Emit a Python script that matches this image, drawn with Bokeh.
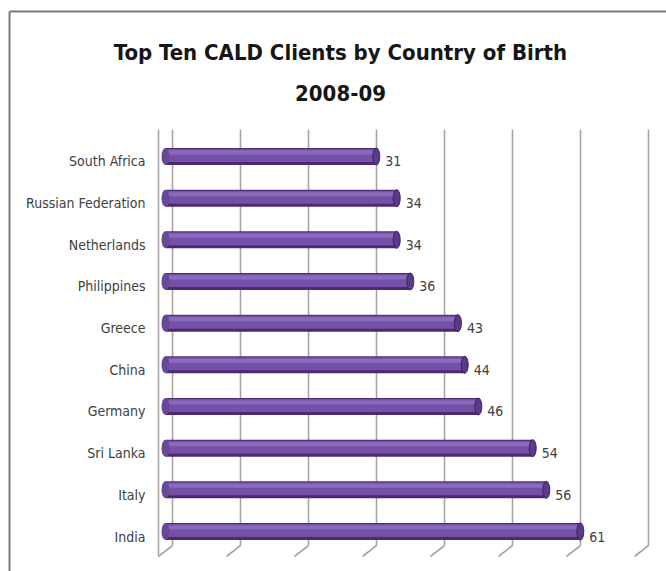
from bokeh.plotting import figure
from bokeh.models import Range1d
from bokeh.core.properties import value
from bokeh.embed import file_html
from bokeh.resources import INLINE

# ---- data ----
title_line1 = "Top Ten CALD Clients by Country of Birth"
title_line2 = "2008-09"
countries = ["India", "Italy", "Sri Lanka", "Germany", "China", "Greece",
             "Philippines", "Netherlands", "Russian Federation", "South Africa"]
clients = [61, 56, 54, 46, 44, 43, 36, 34, 34, 31]
grid_values = [0, 10, 20, 30, 40, 50, 60, 70]

# ---- geometry (pixels) ----
W, H = 666, 571
PX_X0, PX_PER_X = 165, 6.8
PX_CAT0, PX_PER_CAT = 536, 41.67
PLOT_TOP = 129

def xd(px):
    return (px - PX_X0) / PX_PER_X

def yd(py):
    return (PX_CAT0 - py) / PX_PER_CAT

def dx(px):
    return px / PX_PER_X

def dy(px):
    return px / PX_PER_CAT

FONT = "'DejaVu Sans Condensed', 'Liberation Sans', sans-serif"
TEXT_COL = "#404040"

p = figure(width=W, height=H, output_backend="svg", toolbar_location=None,
           x_range=Range1d(xd(0), xd(W)), y_range=Range1d(yd(H), yd(0)),
           x_axis_location=None, y_axis_location=None,
           min_border=0, min_border_left=0, min_border_right=0,
           min_border_top=0, min_border_bottom=0)
p.title.visible = False
p.outline_line_color = None
p.xgrid.visible = False
p.ygrid.visible = False
p.background_fill_color = "white"
p.border_fill_color = "white"

n = len(grid_values)
idx = list(range(len(countries)))

# ---- chart border (left + top edges of the chart area) ----
border_col = "#7d7878"
p.segment(x0=[xd(9), xd(9)], y0=[yd(11), yd(11)], x1=[xd(9), xd(W + 10)],
          y1=[yd(H + 10), yd(11)], line_color=border_col, line_width=2)

# ---- 3D-like gridlines (back wall + slanted floor ticks) ----
back, front = dx(7), dx(7)
grid_col = "#aaa3a3"
gx_back = [v + back for v in grid_values]
gx_front = [v - front for v in grid_values]
p.segment(x0=gx_back, y0=[yd(PLOT_TOP)] * n, x1=gx_back, y1=[yd(545)] * n,
          line_color=grid_col, line_width=1.6)
p.segment(x0=gx_back, y0=[yd(545)] * n, x1=gx_front, y1=[yd(556)] * n,
          line_color=grid_col, line_width=1.6)
p.segment(x0=[gx_front[0]], y0=[yd(PLOT_TOP)], x1=[gx_front[0]], y1=[yd(556)],
          line_color=grid_col, line_width=1.6)

# ---- cylinder bars ----
bar_y = [i + dy(5) for i in idx]
p.hbar(y=bar_y, left=0, right=clients, height=dy(17), fill_color="#4a2b72", line_color=None)
p.hbar(y=[b + dy(1) for b in bar_y], left=0, right=clients, height=dy(13),
       fill_color="#7451a6", line_color=None)
p.hbar(y=[b + dy(4) for b in bar_y], left=0, right=clients, height=dy(4),
       fill_color="#8a6bbd", line_color=None)
p.ellipse(x=[0] * len(clients), y=bar_y, width=8, height=17, width_units="screen",
          height_units="screen", fill_color="#6a4898", line_color=None)
p.ellipse(x=clients, y=bar_y, width=7, height=17, width_units="screen",
          height_units="screen", fill_color="#5b3a88", line_color="#3c2160", line_width=1)

# ---- category labels ----
p.text(x=[xd(145)] * len(countries), y=idx, text=countries,
       text_align="right", text_baseline="middle", text_font=value(FONT),
       text_font_size="14px", text_color=TEXT_COL)

# ---- value labels ----
p.text(x=clients, y=idx, text=[str(v) for v in clients], x_offset=9,
       text_align="left", text_baseline="middle", text_font=value(FONT),
       text_font_size="14px", text_color=TEXT_COL)

# ---- title ----
p.text(x=[xd(340), xd(340)], y=[yd(52), yd(92)], text=[title_line1, title_line2],
       text_align="center", text_baseline="alphabetic", text_font=value(FONT),
       text_font_size="22px", text_font_style="bold", text_color="#161616")

open("out.html", "w").write(file_html(p, INLINE))
